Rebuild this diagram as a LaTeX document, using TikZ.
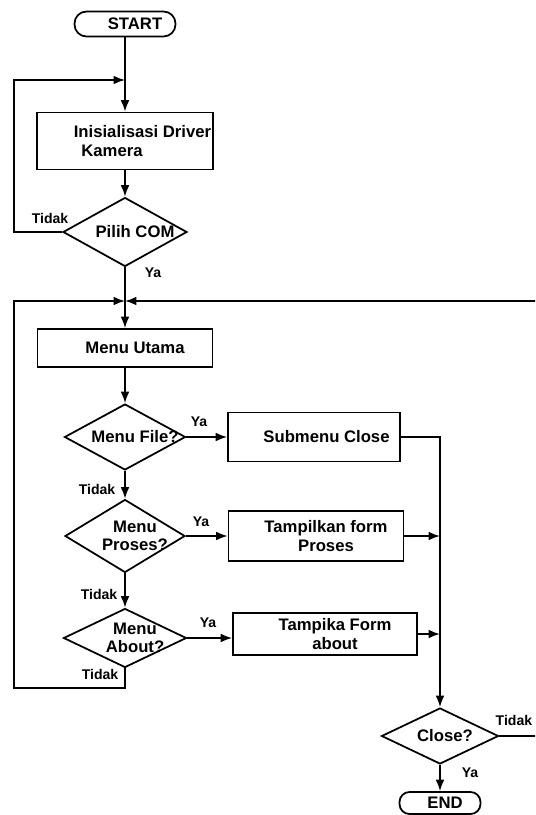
\documentclass[tikz,border=0pt]{standalone}
\usepackage{fontspec}
\setmainfont{Liberation Sans}
\usetikzlibrary{shapes.geometric,arrows.meta}
\newcommand{\indt}{\hspace*{4mm}}
\begin{document}
\begin{tikzpicture}
        [x=0.02cm, y=-0.02cm, line width=1pt, >={Latex[length=6.5pt,width=5pt]},
        box/.style={rectangle,draw,line width=1pt,align=center,inner sep=1pt,font=\fontsize{9.5}{11}\selectfont\bfseries},
        term/.style={box,rounded corners=0.24cm},
        cond/.style={diamond,draw,line width=1pt,aspect=1.8,align=center,inner sep=-3pt,font=\fontsize{9.5}{10.5}\selectfont\bfseries},
        lbl/.style={font=\fontsize{8}{9}\selectfont\bfseries,inner sep=0pt}]
        \clip (0,0) rectangle (535,815);
        \node[term, minimum width=2.02cm, minimum height=0.5cm] (start) at (125,24) {\indt START};
        \node[box, minimum width=3.52cm, minimum height=1.14cm, align=left] (init) at (125,141) {\hspace*{7mm}Inisialisasi Driver\\\hspace*{8.5mm}Kamera};
        \node[cond, minimum width=2.48cm, minimum height=1.38cm] (pc) at (125,232) {\indt Pilih COM};
        \node[box, minimum width=3.5cm, minimum height=0.76cm] (mu) at (125,348) {\indt Menu Utama};
        \node[cond, minimum width=2.42cm, minimum height=1.32cm] (mf) at (125,437) {\indt Menu File?};
        \node[box, minimum width=3.44cm, minimum height=0.98cm] (sc) at (314,437) {\hspace*{5mm}Submenu Close};
        \node[cond, minimum width=2.4cm, minimum height=1.46cm] (mp) at (125,536) {\indt Menu\\\indt Proses?};
        \node[box, minimum width=3.5cm, minimum height=1.0cm] (tp) at (316,536) {\indt Tampilkan form\\\indt Proses};
        \node[cond, minimum width=2.46cm, minimum height=1.18cm] (mab) at (125,638) {\indt Menu\\\indt About?};
        \node[box, minimum width=3.68cm, minimum height=0.84cm] (tf) at (325,634) {\indt Tampika Form\\\indt about};
        \node[cond, minimum width=2.34cm, minimum height=1.12cm] (cl) at (440,736) {\hspace*{2mm}Close?};
        \node[term, rounded corners=0.2cm, minimum width=1.62cm, minimum height=0.44cm] (end) at (440,803) {\hspace*{2mm}END};

        \coordinate (j1) at (125,80);
        \coordinate (l1) at (14,80);
        \coordinate (j2) at (125,301);
        \coordinate (tl) at (14,301);
        \coordinate (bl) at (14,688);
        \coordinate (tr) at (560,301);
        \coordinate (br) at (560,736);

        \draw[->] (start) -- (init);
        \draw[->] (init) -- (pc);
        \draw[->] (pc.west) -| (l1) -- (j1);
        \draw[->] (pc) -- (mu);
        \draw[->] (mu) -- (mf);
        \draw[->] (mf.east) -- (sc.west);
        \draw[->] (mf) -- (mp);
        \draw[->] (mp.east) -- (tp.west);
        \draw[->] (mp) -- (mab);
        \draw[->] (mab.east) -- (mab.east -| tf.west);
        \draw[->] (sc.east) -| (cl.north);
        \draw[->] (tp.east) -- (tp.east -| cl.north);
        \draw[->] (tf.east) -- (tf.east -| cl.north);
        \draw[->] (mab.south) |- (bl) -- (tl) -- (j2);
        \draw[->] (cl.east) -- (br) -- (tr) -- (j2);
        \draw[->] (cl) -- (end);

        \node[lbl] (t1) at (50,218) {Tidak};
        \node[lbl] (y1) at (153,273) {Ya};
        \node[lbl] (y2) at (199,422) {Ya};
        \node[lbl] (t2) at (97,489) {Tidak};
        \node[lbl] (y3) at (201,522) {Ya};
        \node[lbl] (t3) at (99,594) {Tidak};
        \node[lbl] (y4) at (208,623) {Ya};
        \node[lbl] (t4) at (100,674) {Tidak};
        \node[lbl, anchor=east] (t5) at (533,720) {Tidak};
        \node[lbl] (y5) at (470,773) {Ya};
    
    \end{tikzpicture}
\end{document}
